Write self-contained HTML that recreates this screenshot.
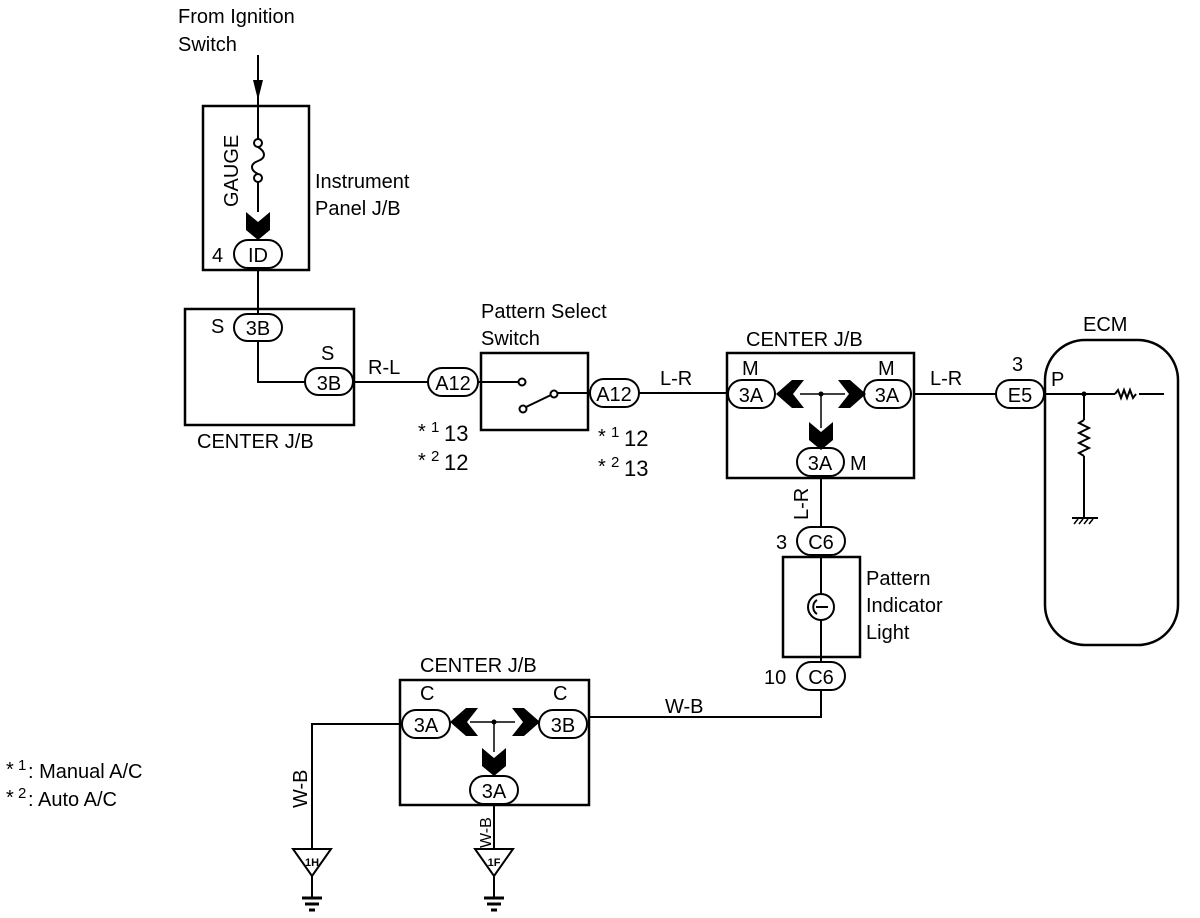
<!DOCTYPE html>
<html><head><meta charset="utf-8"><style>
html,body{margin:0;padding:0;background:#fff;}
svg{display:block;}
text{font-family:"Liberation Sans",sans-serif;fill:#000;}
</style></head><body>
<svg width="1200" height="918" viewBox="0 0 1200 918" xmlns="http://www.w3.org/2000/svg">
<defs>
<g id="chevD"><path d="M-12,-12 L0,-2 L12,-12 L12,6 L0,16 L-12,6 Z" fill="#000"/></g>
</defs>
<g stroke="#000" fill="none" stroke-width="2">
<line x1="258" y1="55" x2="258" y2="139"/>
<line x1="258" y1="182" x2="258" y2="212"/>
<line x1="258" y1="268" x2="258" y2="314"/>
<rect x="203" y="106" width="106" height="164" stroke-width="2.5"/>
<circle cx="258" cy="143" r="4" fill="#fff"/>
<circle cx="258" cy="178" r="4" fill="#fff"/>
<path d="M258,147 C266,152 266,158 258,161 C250,164 250,170 258,174"/>
<rect x="185" y="309" width="169" height="116" stroke-width="2.5"/>
<polyline points="258,340 258,382 305,382"/>
<line x1="353" y1="382" x2="428" y2="382"/>
<rect x="481" y="353" width="107" height="77" stroke-width="2.5"/>
<line x1="478" y1="382" x2="519" y2="382"/>
<circle cx="522" cy="382" r="3.5" fill="#fff"/>
<line x1="526" y1="407" x2="551" y2="395"/>
<circle cx="523" cy="409" r="3.5" fill="#fff"/>
<circle cx="554" cy="394" r="3.5" fill="#fff"/>
<line x1="558" y1="393" x2="590" y2="393"/>
<line x1="639" y1="393" x2="727" y2="393"/>
<rect x="727" y="353" width="187" height="125" stroke-width="2.5"/>
<line x1="800" y1="394" x2="845" y2="394" stroke-width="1.5"/>
<line x1="821" y1="394" x2="821" y2="428" stroke-width="1.5"/>
<line x1="914" y1="394" x2="996" y2="394"/>
<line x1="821" y1="476" x2="821" y2="528"/>
<rect x="783" y="557" width="77" height="100" stroke-width="2.5"/>
<line x1="821" y1="555" x2="821" y2="662"/>
<circle cx="821" cy="607" r="13" fill="#fff"/>
<path d="M817,600 C812,603 812,611 817,614" />
<line x1="816" y1="607" x2="828" y2="607"/>
<polyline points="821,690 821,717 589,717"/>
<rect x="1045" y="340" width="133" height="305" rx="40" ry="40" stroke-width="2.5"/>
<line x1="1045" y1="394" x2="1115" y2="394"/>
<path d="M1115,394 l3,-4 l3,8 l3,-8 l3,8 l3,-8 l3,8 l3,-4"/>
<line x1="1139" y1="394" x2="1164" y2="394"/>
<line x1="1084" y1="394" x2="1084" y2="420"/>
<path d="M1084,420 l-5,3 l10,5 l-10,5 l10,5 l-10,5 l10,5 l-10,5 l5,3"/>
<line x1="1084" y1="456" x2="1084" y2="517"/>
<line x1="1072" y1="518" x2="1098" y2="518"/>
<path d="M1074,524 l4,-5 M1079,524 l4,-5 M1084,524 l4,-5 M1089,524 l4,-5" stroke-width="1.5"/>
<rect x="400" y="680" width="189" height="125" stroke-width="2.5"/>
<line x1="470" y1="722" x2="515" y2="722" stroke-width="1.5"/>
<line x1="494" y1="722" x2="494" y2="752" stroke-width="1.5"/>
<polyline points="400,724 312,724 312,849"/>
<line x1="494" y1="804" x2="494" y2="849"/>
<path d="M293,849 L331,849 L312,876 Z"/>
<line x1="312" y1="876" x2="312" y2="897"/>
<line x1="302" y1="898" x2="322" y2="898" stroke-width="3"/>
<line x1="305" y1="904" x2="319" y2="904" stroke-width="3"/>
<line x1="309" y1="910" x2="315" y2="910" stroke-width="3"/>
<path d="M475,849 L513,849 L494,876 Z"/>
<line x1="494" y1="876" x2="494" y2="897"/>
<line x1="484" y1="898" x2="504" y2="898" stroke-width="3"/>
<line x1="487" y1="904" x2="501" y2="904" stroke-width="3"/>
<line x1="491" y1="910" x2="497" y2="910" stroke-width="3"/>
<rect x="234" y="240" width="48" height="28" rx="14" fill="#fff"/>
<rect x="234" y="314" width="48" height="27" rx="13.5" fill="#fff"/>
<rect x="305" y="368" width="48" height="27" rx="13.5" fill="#fff"/>
<rect x="428" y="368" width="50" height="28" rx="14" fill="#fff"/>
<rect x="590" y="379" width="49" height="28" rx="14" fill="#fff"/>
<rect x="728" y="380" width="47" height="28" rx="14" fill="#fff"/>
<rect x="864" y="380" width="47" height="28" rx="14" fill="#fff"/>
<rect x="797" y="448" width="47" height="28" rx="14" fill="#fff"/>
<rect x="797" y="527" width="48" height="28" rx="14" fill="#fff"/>
<rect x="797" y="662" width="48" height="28" rx="14" fill="#fff"/>
<rect x="996" y="380" width="48" height="28" rx="14" fill="#fff"/>
<rect x="402" y="710" width="48" height="28" rx="14" fill="#fff"/>
<rect x="539" y="710" width="48" height="28" rx="14" fill="#fff"/>
<rect x="470" y="776" width="48" height="28" rx="14" fill="#fff"/>
</g>
<path d="M253,80 L263,80 L258,100 Z" fill="#000"/>
<use href="#chevD" x="258" y="224"/>
<use href="#chevD" x="821" y="434"/>
<use href="#chevD" x="494" y="760"/>
<path d="M776,394 L792,380 L804,380 L793,394 L804,408 L792,408 Z" fill="#000"/>
<path d="M866,394 L850,380 L838,380 L849,394 L838,408 L850,408 Z" fill="#000"/>
<path d="M450,722 L466,708 L478,708 L467,722 L478,736 L466,736 Z" fill="#000"/>
<path d="M540,722 L524,708 L512,708 L523,722 L512,736 L524,736 Z" fill="#000"/>
<circle cx="821" cy="394" r="2.5" fill="#000"/>
<circle cx="494" cy="722" r="2.5" fill="#000"/>
<circle cx="1084" cy="394" r="2.5" fill="#000"/>
<g font-size="20">
<text x="178" y="23">From Ignition</text>
<text x="178" y="51">Switch</text>
<text x="315" y="188">Instrument</text>
<text x="315" y="215">Panel J/B</text>
<text transform="translate(238,207) rotate(-90)">GAUGE</text>
<text x="212" y="262">4</text>
<text x="258" y="262" text-anchor="middle">ID</text>
<text x="211" y="333">S</text>
<text x="258" y="335" text-anchor="middle">3B</text>
<text x="321" y="360">S</text>
<text x="329" y="390" text-anchor="middle">3B</text>
<text x="197" y="448">CENTER J/B</text>
<text x="368" y="374">R-L</text>
<text x="453" y="390" text-anchor="middle">A12</text>
<text x="481" y="318">Pattern Select</text>
<text x="481" y="345">Switch</text>
<text x="614" y="401" text-anchor="middle">A12</text>
<text x="660" y="385">L-R</text>
<text x="746" y="346">CENTER J/B</text>
<text x="742" y="375">M</text>
<text x="878" y="375">M</text>
<text x="751" y="402" text-anchor="middle">3A</text>
<text x="887" y="402" text-anchor="middle">3A</text>
<text x="820" y="470" text-anchor="middle">3A</text>
<text x="850" y="470">M</text>
<text x="930" y="385">L-R</text>
<text x="1012" y="371">3</text>
<text x="1020" y="402" text-anchor="middle">E5</text>
<text x="1083" y="331">ECM</text>
<text x="1051" y="386">P</text>
<text transform="translate(808,520) rotate(-90)">L-R</text>
<text x="776" y="549">3</text>
<text x="821" y="549" text-anchor="middle">C6</text>
<text x="866" y="585">Pattern</text>
<text x="866" y="612">Indicator</text>
<text x="866" y="639">Light</text>
<text x="764" y="684">10</text>
<text x="821" y="684" text-anchor="middle">C6</text>
<text x="665" y="713">W-B</text>
<text x="420" y="672">CENTER J/B</text>
<text x="420" y="700">C</text>
<text x="553" y="700">C</text>
<text x="426" y="732" text-anchor="middle">3A</text>
<text x="563" y="732" text-anchor="middle">3B</text>
<text x="494" y="798" text-anchor="middle">3A</text>
<text transform="translate(307,808) rotate(-90)">W-B</text>
<text x="444" y="441" font-size="22">13</text>
<text x="444" y="470" font-size="22">12</text>
<text x="624" y="446" font-size="22">12</text>
<text x="624" y="476" font-size="22">13</text>
<text x="28" y="778">: Manual A/C</text>
<text x="28" y="806">: Auto A/C</text>
</g>
<g font-size="20">
<text transform="translate(491,848) rotate(-90)" font-size="16">W-B</text>
<text x="418" y="438">*</text><text x="431" y="432" font-size="15">1</text>
<text x="418" y="467">*</text><text x="431" y="461" font-size="15">2</text>
<text x="598" y="443">*</text><text x="611" y="437" font-size="15">1</text>
<text x="598" y="473">*</text><text x="611" y="467" font-size="15">2</text>
<text x="6" y="776">*</text><text x="18" y="770" font-size="15">1</text>
<text x="6" y="804">*</text><text x="18" y="798" font-size="15">2</text>
</g>
<g font-size="11" font-weight="bold">
<text x="312" y="866" text-anchor="middle">1H</text>
<text x="494" y="866" text-anchor="middle">1F</text>
</g>
</svg>
</body></html>
